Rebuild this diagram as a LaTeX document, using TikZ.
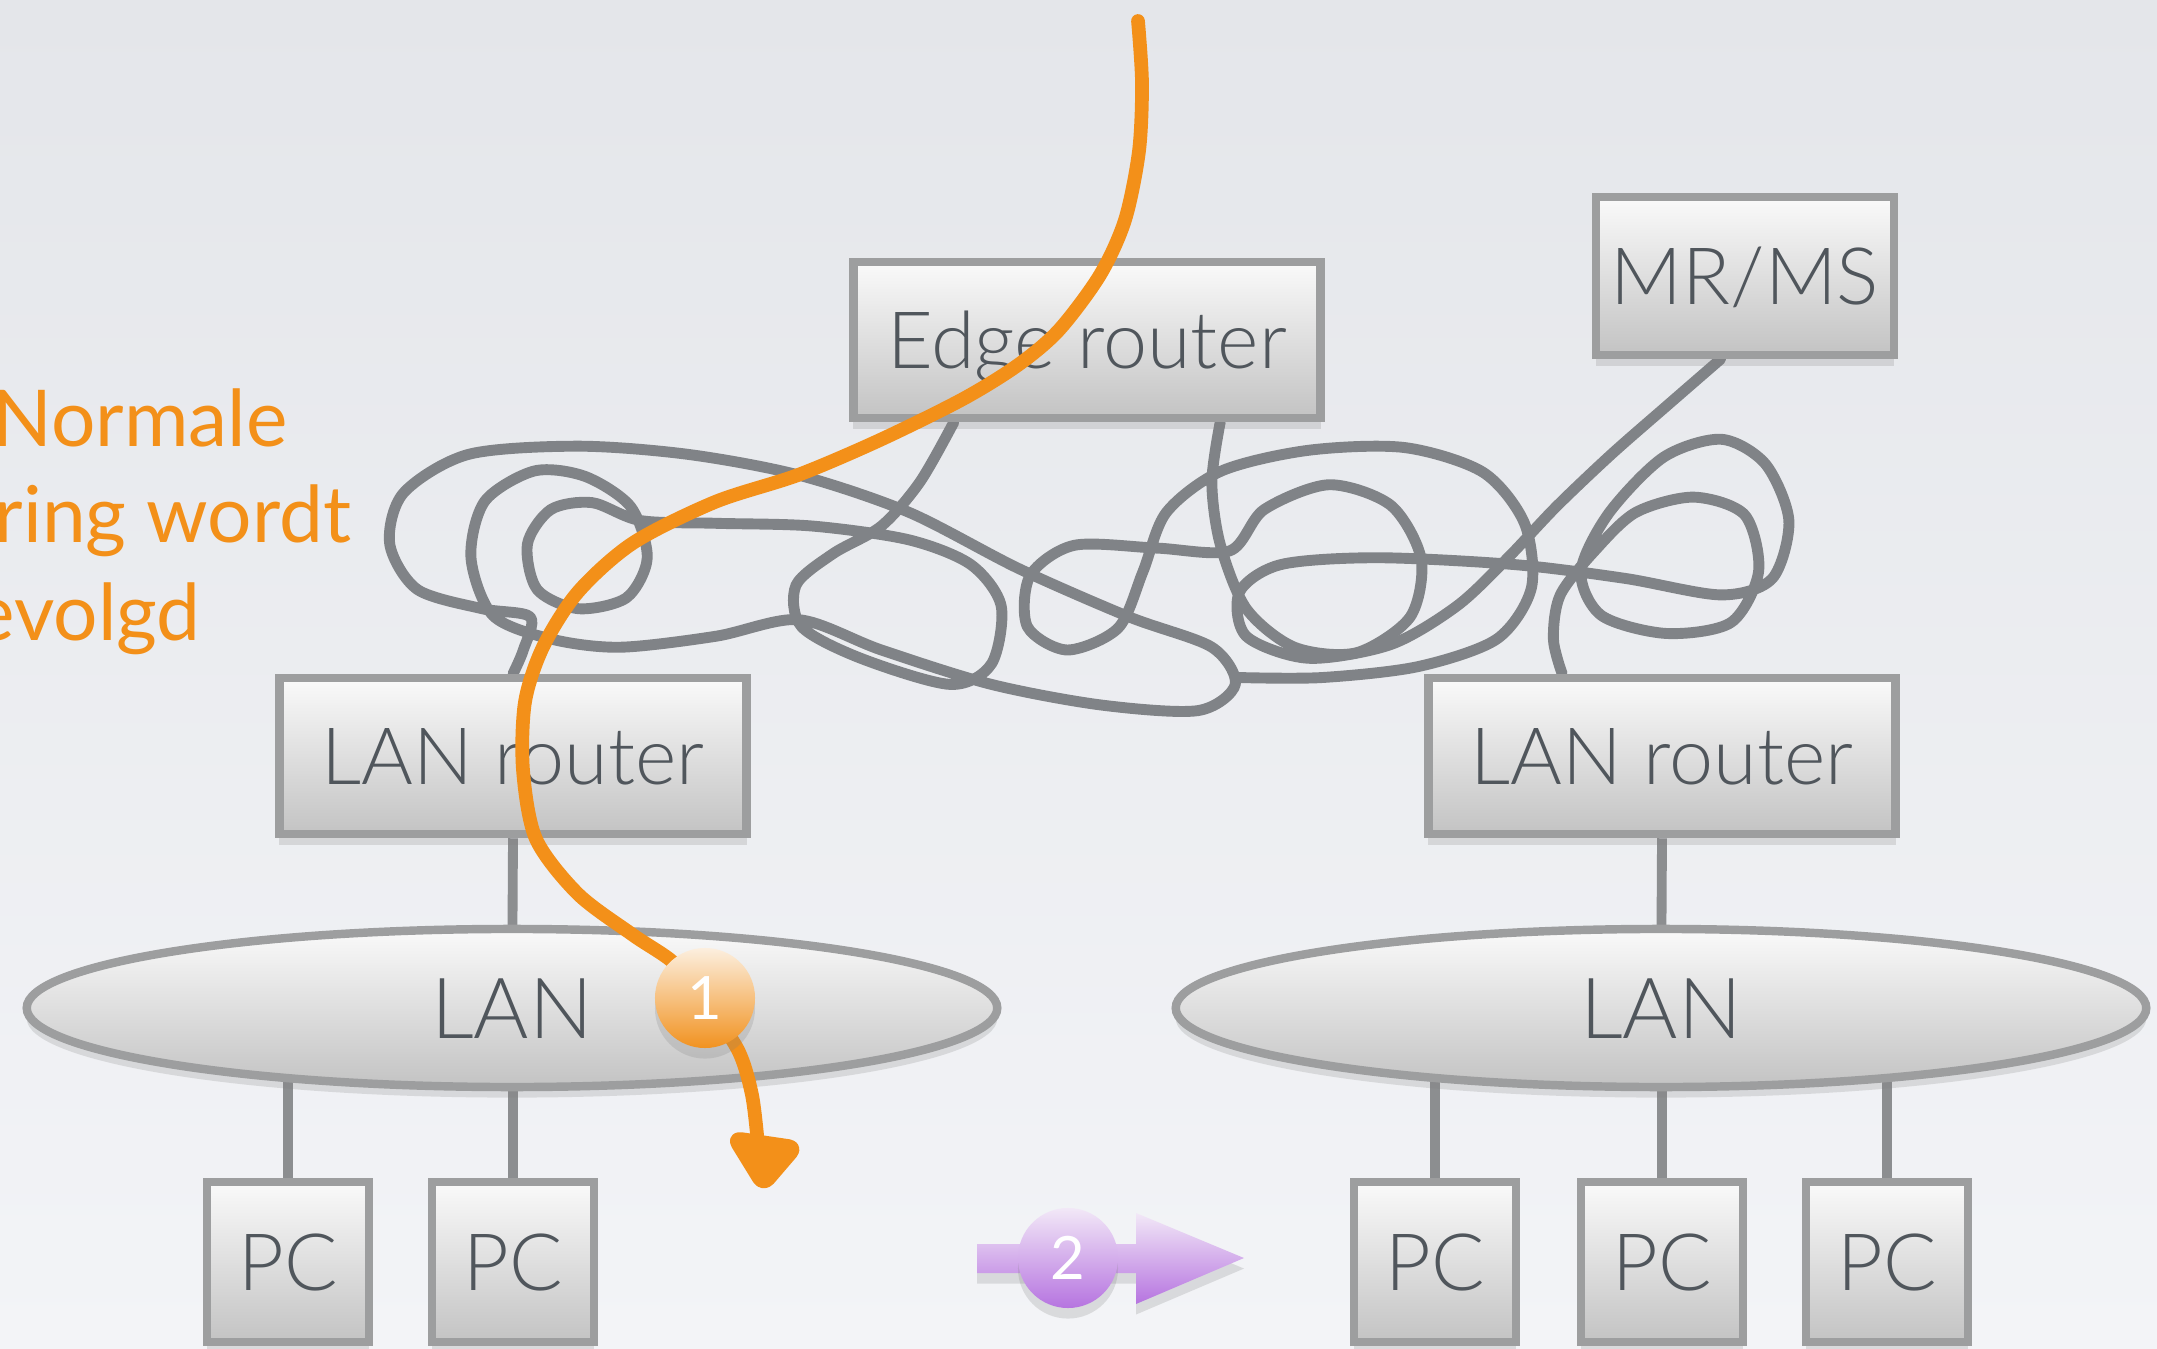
\documentclass[tikz,border=0pt]{standalone}
\usepackage{fontspec}
\IfFontExistsTF{Lato Light}{\newfontfamily\lightfont{Lato Light}}{\newfontfamily\lightfont{Lato}}
\newfontfamily\labelfont{Lato}
\usetikzlibrary{shadows,shapes.geometric,calc}

\definecolor{bgtop}{HTML}{E4E6EA}
\definecolor{bgbot}{HTML}{F3F4F7}
\definecolor{boxtop}{HTML}{FAFAFA}
\definecolor{boxbot}{HTML}{C3C3C3}
\definecolor{boxline}{HTML}{9D9E9F}
\definecolor{ink}{HTML}{50565C}
\definecolor{scrib}{HTML}{808387}
\definecolor{wirec}{HTML}{8C8E90}
\definecolor{route}{HTML}{F39019}
\definecolor{onetop}{HTML}{FCEFDF}
\definecolor{onebot}{HTML}{F19220}
\definecolor{twotop}{HTML}{F2E8F7}
\definecolor{twobot}{HTML}{B674E0}

\pgfdeclarelayer{backdrop}
\pgfdeclarelayer{wires}
\pgfsetlayers{backdrop,wires,main}

\tikzset{
  softshadow/.style={drop shadow={opacity=0.22, shadow xshift=0pt, shadow yshift=-3pt}},
  box/.style={rectangle, draw=boxline, line width=2.4pt, top color=boxtop, bottom color=boxbot,
    softshadow, inner sep=0pt, text=ink, font=\lightfont\fontsize{22.5}{27}\selectfont,
    text height=16.2pt, text depth=0pt},
  lanshape/.style={ellipse, draw=boxline, line width=2.4pt, top color=boxtop, bottom color=boxbot,
    softshadow, inner sep=0pt, text=ink, font=\lightfont\fontsize{24}{28}\selectfont,
    text height=17.3pt, text depth=0pt, minimum width=9.7cm, minimum height=1.58cm},
  pcbox/.style={box, minimum width=1.62cm, minimum height=1.6cm},
  wire/.style={draw=wirec, line width=2.8pt},
  scribble/.style={draw=scrib, line width=3.1pt, line cap=round, line join=round},
  routeline/.style={draw=route, line width=3.9pt, line cap=round, line join=round},
  note/.style={anchor=base west, inner sep=0pt, text=route, font=\labelfont\fontsize{22.3}{26}\selectfont},
  badge/.style={circle, minimum size=1.0cm, inner sep=0pt, text=white, softshadow,
    font=\labelfont\fontsize{17}{20}\selectfont}
}

\begin{document}
\begin{tikzpicture}[x=0.01cm, y=-0.01cm]
\useasboundingbox (0,0) rectangle (2157,1349);
\begin{pgfonlayer}{backdrop}
  \shade[top color=bgtop, bottom color=bgbot] (0,0) rectangle (2157,1349);
\end{pgfonlayer}

% explanatory text on the left
\node[note] (t1) at (-8,447) {Normale};
\node[note] (t2) at (-6,543) {ring wordt};
\node[note] (t3) at (-27,640) {evolgd};

% routers and hosts
\node[box, minimum width=4.67cm, minimum height=1.56cm] (edge) at (1087,340) {Edge router};
\node[box, minimum width=2.98cm, minimum height=1.58cm] (mrms) at (1745,276) {MR/MS};
\node[box, minimum width=4.67cm, minimum height=1.56cm] (rtrL) at (513,756) {LAN router};
\node[box, minimum width=4.67cm, minimum height=1.56cm] (rtrR) at (1662,756) {LAN router};
\node[lanshape] (lanL) at (512,1008) {LAN};
\node[lanshape] (lanR) at (1661,1008) {LAN};
\node[pcbox] (pc1) at (288,1262) {PC};
\node[pcbox] (pc2) at (513,1262) {PC};
\node[pcbox] (pc3) at (1435,1262) {PC};
\node[pcbox] (pc4) at (1662,1262) {PC};
\node[pcbox] (pc5) at (1887,1262) {PC};

% ends of the tangled internet links
\coordinate (eA) at ($(edge.south west)!0.22!(edge.south east)$);
\coordinate (eB) at ($(edge.south west)!0.78!(edge.south east)$);
\coordinate (mA) at ($(mrms.south west)!0.42!(mrms.south east)$);
\coordinate (lA) at (rtrL.north);
\coordinate (lB) at ($(rtrR.north west)!0.29!(rtrR.north east)$);

\begin{pgfonlayer}{wires}
  \draw[wire] (rtrL.south) -- (lanL.center);
  \draw[wire] (rtrR.south) -- (lanR.center);
  \foreach \p/\l in {pc1/lanL, pc2/lanL, pc3/lanR, pc4/lanR, pc5/lanR}
    \draw[wire] (\p.north) -- (\p.north |- \l.center);

  % the tangle between edge router, MR/MS and the LAN routers
  \begin{scope}[x=0.013756cm, y=-0.013756cm]
  \draw[scribble] plot[smooth] coordinates {
    (eA) (668,350) (640,382) (605,402) (578,425) (582,455) (625,478) (690,497)
    (720,482) (727,440) (705,410) (660,392) (590,382) (520,380) (465,378)
    (430,365) (400,370) (383,395) (390,428) (420,442) (455,434) (470,405)
    (458,368) (425,346) (388,342) (352,364) (342,405) (358,447) (400,464)
    (450,470) (520,462) (580,450) (640,472) (720,497) (800,512) (870,516)
    (897,497) (880,470) (820,448) (740,413) (660,372) (580,345) (500,330)
    (420,324) (340,330) (293,358) (283,395) (303,428) (350,442) (385,448)
    (380,472) (lA)};
  \draw[scribble] plot[smooth] coordinates {
    (eB) (880,350) (886,395) (905,442) (940,470) (985,474) (1024,448)
    (1032,406) (1010,367) (965,352) (918,370) (893,400) (840,398) (780,396)
    (748,418) (746,455) (775,472) (812,456) (830,415) (847,372) (887,342)
    (950,327) (1020,325) (1077,343) (1107,380) (1112,427) (1087,464)
    (1030,484) (960,492) (900,492)};
  \draw[scribble] plot[smooth] coordinates {
    (mA) (1210,295) (1170,330) (1130,368) (1095,405) (1058,440) (1010,468)
    (950,478) (905,462) (900,430) (930,410) (1000,405) (1100,410) (1180,420)
    (1250,432) (1287,420) (1299,378) (1282,337) (1250,319) (1208,332)
    (1168,373) (1148,415) (1163,447) (1210,460) (1257,452) (1277,415)
    (1267,374) (1230,361) (1188,372) (1158,400) (1133,432) (1128,464) (lB)};
  \end{scope}
\end{pgfonlayer}

% the normal route through the network
\coordinate (src) at (1138,21);
\coordinate (tip) at (763,1188);
\draw[routeline] plot[smooth] coordinates {
  (src) (1142,83) (1139,151) (1125,220) (1100,275) (1059,330) (1018,365)
  (963,399) (880,440) (798,475) (715,502) (633,543) (578,592) (543,647)
  (525,702) (523,770) (536,839) (578,894) (633,935) (674,963) (704,1000)
  (738,1050) (752,1095) (758,1145)};
\fill[route, draw=route, line width=3pt, line join=round, rounded corners=3pt]
  (731,1136) -- (799,1146) -- (tip) -- cycle;

\node[badge, top color=onetop, bottom color=onebot] (one) at (705,998) {1};

% step two marker
\shade[top color=twotop, bottom color=twobot, softshadow]
  (977,1244) -- (1136,1244) -- (1136,1213) -- (1244,1258) -- (1136,1304)
  -- (1136,1273) -- (977,1273) -- cycle;
\node[badge, top color=twotop, bottom color=twobot] (two) at (1068,1258) {2};
\end{tikzpicture}
\end{document}
